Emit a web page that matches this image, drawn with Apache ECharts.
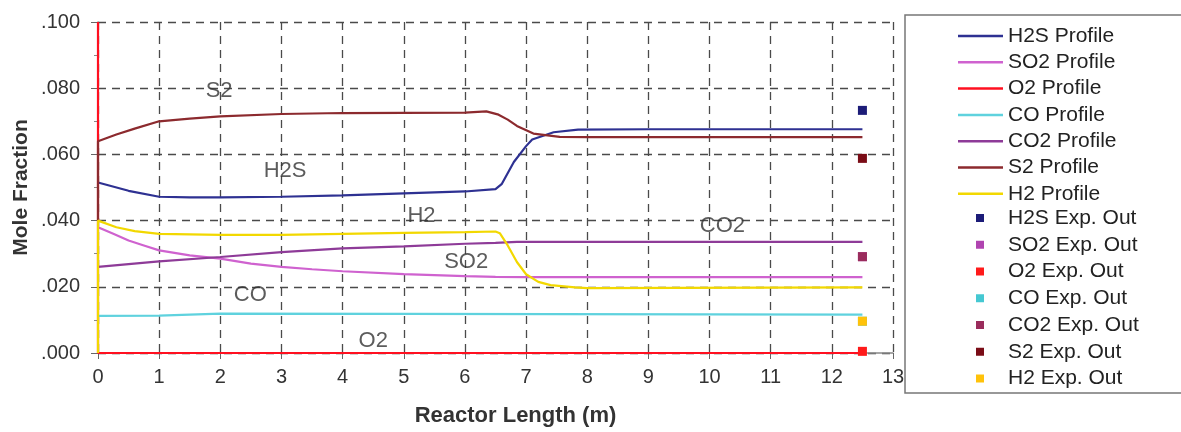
<!DOCTYPE html>
<html>
<head>
<meta charset="utf-8">
<script src="https://cdn.jsdelivr.net/npm/echarts@6/dist/echarts.min.js"></script>
<style>
html, body { margin: 0; padding: 0; background: #fff; }
#chart { width: 1181px; height: 432px; }
</style>
</head>
<body>
<div id="chart"></div>
<script>
// 各组分沿反应器长度的摩尔分数曲线
var h2sX = [0, 0.5, 1, 1.5, 2, 3, 4, 5, 6, 6.5, 6.6, 6.8, 7, 7.1, 7.45, 7.85, 9, 12.5];
var h2sY = [0.0515, 0.049, 0.0472, 0.047, 0.047, 0.0472, 0.0476, 0.0482, 0.0488, 0.0495, 0.051, 0.0577, 0.0625, 0.0645, 0.0667, 0.0675, 0.0676, 0.0676];

var so2X = [0, 0.25, 0.5, 0.75, 1, 1.5, 2, 2.5, 3, 3.5, 4, 5, 6, 6.5, 7, 12.5];
var so2Y = [0.038, 0.036, 0.034, 0.0325, 0.031, 0.0295, 0.0285, 0.027, 0.026, 0.0253, 0.0247, 0.0238, 0.0232, 0.023, 0.0229, 0.0229];

var o2X = [0, 0, 12.5];
var o2Y = [0.1, 0, 0];

var coX = [0, 1, 1.5, 2, 5, 12.5];
var coY = [0.0112, 0.0113, 0.0116, 0.0119, 0.0118, 0.0116];

var co2X = [0, 1, 2, 3, 4, 5, 6, 6.5, 6.85, 12.5];
var co2Y = [0.026, 0.0277, 0.029, 0.0305, 0.0316, 0.0322, 0.033, 0.0333, 0.0336, 0.0336];

var s2X = [0, 0, 0.3, 0.6, 1, 1.5, 2, 3, 4, 6, 6.35, 6.55, 6.7, 6.85, 7.12, 7.55, 8, 12.5];
var s2Y = [0.040, 0.064, 0.066, 0.0678, 0.070, 0.0708, 0.0715, 0.0722, 0.0725, 0.0726, 0.073, 0.072, 0.0705, 0.0686, 0.0663, 0.0653, 0.0652, 0.0652];

var h2X = [0, 0, 0.3, 0.6, 1, 2, 3, 4, 5, 6, 6.5, 6.57, 6.7, 6.85, 7.0, 7.2, 7.4, 7.8, 8, 12.5];
var h2Y = [0, 0.040, 0.038, 0.0368, 0.036, 0.0357, 0.0357, 0.036, 0.0363, 0.0365, 0.0367, 0.0362, 0.0325, 0.0275, 0.0238, 0.0215, 0.0205, 0.0198, 0.0196, 0.0198];

// 出口实验值
var expX = 12.5;
var expNames = ['H2S Exp. Out', 'SO2 Exp. Out', 'O2 Exp. Out', 'CO Exp. Out', 'CO2 Exp. Out', 'S2 Exp. Out', 'H2 Exp. Out'];
var expValues = [0.0733, 0.0291, 0.0005, 0.0096, 0.0291, 0.0588, 0.0096];
var expColors = ['#1c1c78', '#b044b0', '#ff1a1a', '#45c8d2', '#9a2c5c', '#7a0c16', '#ffc20a'];

var profileNames = ['H2S Profile', 'SO2 Profile', 'O2 Profile', 'CO Profile', 'CO2 Profile', 'S2 Profile', 'H2 Profile'];
var profileColors = ['#2e3192', '#cf62cf', '#ff1020', '#5fd2de', '#8e3b98', '#8c2a2e', '#f2d800'];
var profileX = [h2sX, so2X, o2X, coX, co2X, s2X, h2X];
var profileY = [h2sY, so2Y, o2Y, coY, co2Y, s2Y, h2Y];

// 图中标注文字
var noteText = ['S2', 'H2S', 'H2', 'SO2', 'CO2', 'CO', 'O2'];
var noteX = [1.98, 3.06, 5.29, 6.02, 10.21, 2.49, 4.5];
var noteY = [0.0792, 0.055, 0.0415, 0.0275, 0.0385, 0.0175, 0.0036];

function zip(xs, ys) {
    return xs.map(function (x, i) {
        return [x, ys[i]];
    });
}

var font = 'Liberation Sans, Arial, sans-serif';
var series = [];
profileNames.forEach(function (name, i) {
    series.push({
        name: name,
        type: 'line',
        symbol: 'none',
        data: zip(profileX[i], profileY[i]),
        lineStyle: {color: profileColors[i], width: 2.2},
        itemStyle: {color: profileColors[i]},
        z: 3
    });
});
expNames.forEach(function (name, i) {
    series.push({
        name: name,
        type: 'scatter',
        symbol: 'rect',
        symbolSize: 9,
        data: [[expX, expValues[i]]],
        itemStyle: {color: expColors[i], opacity: 1},
        z: 4
    });
});
series.push({
    name: 'notes',
    type: 'scatter',
    symbolSize: 0,
    silent: true,
    data: noteText.map(function (t, i) {
        return {name: t, value: [noteX[i], noteY[i]]};
    }),
    label: {
        show: true,
        position: 'inside',
        formatter: '{b}',
        fontFamily: font,
        fontSize: 22,
        color: '#333'
    },
    z: 5
});

var legendText = {fontFamily: font, fontSize: 21, color: '#222', lineHeight: 24};

var chart = echarts.init(document.getElementById('chart'));
chart.setOption({
    animation: false,
    grid: {left: 98, right: 288, top: 22, bottom: 77},
    graphic: [{
        type: 'rect',
        shape: {x: 905, y: 15, width: 300, height: 378},
        style: {fill: 'none', stroke: '#777', lineWidth: 1.5},
        silent: true
    }],
    legend: [{
        data: profileNames,
        orient: 'vertical',
        left: 953,
        top: 19,
        icon: 'rect',
        itemWidth: 45,
        itemHeight: 2.5,
        itemGap: 2.3,
        selectedMode: false,
        textStyle: legendText
    }, {
        data: expNames,
        orient: 'vertical',
        left: 971,
        top: 201,
        icon: 'rect',
        itemWidth: 8,
        itemHeight: 8,
        itemGap: 2.75,
        selectedMode: false,
        textStyle: echarts.util.extend({padding: [0, 0, 0, 19]}, legendText)
    }],
    xAxis: {
        type: 'value',
        min: 0,
        max: 13,
        interval: 1,
        name: 'Reactor Length (m)',
        nameLocation: 'middle',
        nameGap: 52,
        nameMoveOverlap: false,
        nameTextStyle: {fontFamily: font, fontSize: 22, fontWeight: 'bold', color: '#333', padding: [0, 0, 0, 40]},
        axisLine: {lineStyle: {color: '#888', width: 1.5}},
        axisTick: {show: true, length: 6, lineStyle: {color: '#666'}},
        axisLabel: {fontFamily: font, fontSize: 20, color: '#333', margin: 14},
        splitLine: {show: true, lineStyle: {color: '#4a4a4a', type: [8, 6], width: 1.3}}
    },
    yAxis: {
        type: 'value',
        min: 0,
        max: 0.1,
        interval: 0.02,
        name: 'Mole Fraction',
        nameLocation: 'middle',
        nameGap: 66,
        nameMoveOverlap: false,
        nameTextStyle: {fontFamily: font, fontSize: 21, fontWeight: 'bold', color: '#333'},
        axisLine: {show: true, lineStyle: {color: '#888', width: 1.5}},
        axisTick: {show: true, length: 7, lineStyle: {color: '#666'}},
        minorTick: {show: true, splitNumber: 2, length: 4, lineStyle: {color: '#888'}},
        axisLabel: {
            fontFamily: font,
            fontSize: 20,
            color: '#333',
            margin: 18,
            formatter: function (v) {
                return v.toFixed(3).replace(/^0/, '');
            }
        },
        splitLine: {show: true, lineStyle: {color: '#4a4a4a', type: [8, 6], width: 1.3}}
    },
    series: series
});
</script>
</body>
</html>
